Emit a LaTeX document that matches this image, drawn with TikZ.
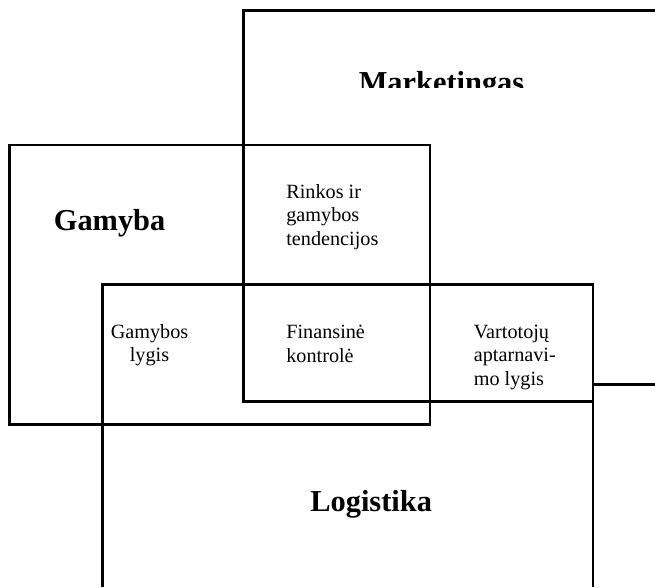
\documentclass[tikz,border=0pt]{standalone}
\usepackage{fontspec}
\setmainfont{Liberation Serif}
\usepackage{tikz}
\usetikzlibrary{positioning}
\tikzstyle{area} = [draw, line width=1.2pt]
\tikzstyle{areaTitle} = [font=\bfseries\fontsize{17.3}{20}\selectfont, inner sep=0pt]
\tikzstyle{cellText} = [font=\fontsize{11.5}{13.3}\selectfont, inner sep=0pt, align=left]

\begin{document}
\begin{tikzpicture}
    \useasboundingbox (0,0) rectangle (13.1,-11.74);

    % Marketingas (right side runs off the page)
    \draw[area] (13.1,-0.21) -- (4.87,-0.21) -- (4.87,-8.03) -- (11.86,-8.03);
    \draw[area] (11.86,-7.69) -- (13.1,-7.69);
    \begin{scope}
        \clip (4.87,-0.21) rectangle (13.1,-1.75); % title is cut at the bottom
        \node[areaTitle, anchor=base] (mkt) at (8.83,-1.84) {Marketingas};
    \end{scope}

    % Gamyba
    \draw[area] (0.19,-2.9) rectangle (8.6,-8.49);
    \node[areaTitle, anchor=base west] (gam) at (1.07,-4.61) {Gamyba};

    % Logistika (bottom runs off the page)
    \draw[area] (2.05,-11.74) -- (2.05,-5.69) -- (11.86,-5.69) -- (11.86,-11.74);
    \node[areaTitle, anchor=base west] (log) at (6.2,-10.23) {Logistika};

    % Overlap texts (anchored at the last line)
    \node[cellText, anchor=base west] (rinkos) at (5.72,-4.9) {Rinkos ir\\gamybos\\tendencijos};
    \node[cellText, anchor=base west] (fin) at (5.72,-7.24) {Finansinė\\kontrolė};
    \node[cellText, align=center, anchor=base] (gamlyg) at (2.99,-7.23) {Gamybos\\lygis};
    \node[cellText, anchor=base west] (vart) at (9.47,-7.7) {Vartotojų\\aptarnavi-\\mo lygis};
\end{tikzpicture}
\end{document}
